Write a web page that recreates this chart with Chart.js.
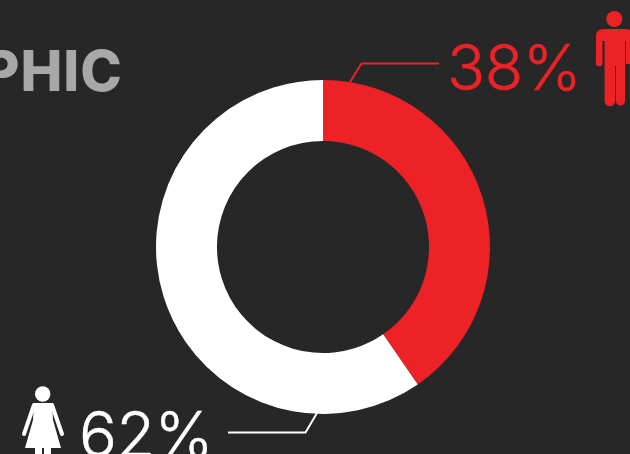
<!DOCTYPE html>
<html>
<head>
<meta charset="utf-8">
<style>
html,body{margin:0;padding:0;background:#272727;overflow:hidden}
#wrap{position:relative;width:630px;height:454px}
canvas{display:block}
</style>
<script src="https://cdn.jsdelivr.net/npm/chart.js@4"></script>
</head>
<body>
<div id="wrap"><canvas id="c" width="630" height="454"></canvas></div>
<script>
const categories = ["Male", "Female"];
const arcValues = [40.4, 59.6];
const percentLabels = ["38%", "62%"];
const titleText = "PHIC";
const RED = "#ed2227", WHITE = "#ffffff", BG = "#272727", GREY = "#a8a8a8";

function roundedLine(ctx, x1, y1, x2, y2, w) {
  ctx.lineCap = "round"; ctx.lineWidth = w;
  ctx.beginPath(); ctx.moveTo(x1, y1); ctx.lineTo(x2, y2); ctx.stroke();
}
function drawMan(ctx) {
  ctx.fillStyle = RED; ctx.strokeStyle = RED;
  ctx.beginPath(); ctx.arc(614.3, 19, 8, 0, Math.PI * 2); ctx.fill();
  ctx.beginPath();
  ctx.moveTo(604, 29); ctx.lineTo(626, 29);
  ctx.quadraticCurveTo(632, 29, 632, 36);
  ctx.lineTo(632, 64); ctx.lineTo(626, 64); ctx.lineTo(626, 41); ctx.lineTo(625, 41);
  ctx.lineTo(625, 101); ctx.arc(620.5, 101, 4.5, 0, Math.PI); ctx.lineTo(616, 66); ctx.lineTo(615, 66);
  ctx.lineTo(615, 101); ctx.arc(609.8, 101, 5.2, 0, Math.PI); ctx.lineTo(604.6, 41); ctx.lineTo(602.5, 41);
  ctx.lineTo(602.5, 63); ctx.arc(599.2, 63, 3.3, 0, Math.PI); ctx.lineTo(596, 36);
  ctx.quadraticCurveTo(596, 29, 604, 29);
  ctx.closePath(); ctx.fill();
}
function drawWoman(ctx) {
  ctx.fillStyle = WHITE; ctx.strokeStyle = WHITE;
  ctx.beginPath(); ctx.arc(42.7, 394, 7.7, 0, Math.PI * 2); ctx.fill();
  ctx.beginPath();
  ctx.moveTo(34, 403); ctx.lineTo(52, 403);
  ctx.lineTo(53, 420); ctx.lineTo(61, 448); ctx.lineTo(51, 448); ctx.lineTo(51, 454); ctx.lineTo(44, 454); ctx.lineTo(44, 448);
  ctx.lineTo(42, 448); ctx.lineTo(42, 454); ctx.lineTo(35, 454); ctx.lineTo(35, 448); ctx.lineTo(25, 448);
  ctx.lineTo(33, 420);
  ctx.closePath(); ctx.fill();
  roundedLine(ctx, 34, 405, 24, 434, 4);
  roundedLine(ctx, 52, 405, 62, 434, 4);
}
const annotations = {
  id: "annotations",
  afterDraw(chart) {
    const ctx = chart.ctx;
    ctx.save();
    ctx.lineCap = "butt"; ctx.lineJoin = "miter"; ctx.lineWidth = 2;
    ctx.strokeStyle = RED;
    ctx.beginPath(); ctx.moveTo(350, 82); ctx.lineTo(361.5, 63.5); ctx.lineTo(439, 63.5); ctx.stroke();
    ctx.strokeStyle = WHITE;
    ctx.beginPath(); ctx.moveTo(228, 432.5); ctx.lineTo(305.5, 432.5); ctx.lineTo(317, 413); ctx.stroke();
    ctx.textBaseline = "alphabetic";
    ctx.textAlign = "left";
    ctx.font = "300 63px Inter";
    ctx.letterSpacing = "-0.5px";
    ctx.lineWidth = 0.5;
    ctx.fillStyle = RED; ctx.strokeStyle = RED;
    ctx.fillText(percentLabels[0], 447, 90);
    ctx.strokeText(percentLabels[0], 447, 90);
    ctx.fillStyle = WHITE; ctx.strokeStyle = WHITE;
    ctx.fillText(percentLabels[1], 79, 457);
    ctx.strokeText(percentLabels[1], 79, 457);
    ctx.letterSpacing = "1px";
    ctx.font = "800 56px Inter";
    ctx.fillStyle = GREY;
    ctx.textAlign = "right";
    ctx.fillText(titleText, 123, 91);
    ctx.letterSpacing = "0px";
    drawMan(ctx);
    drawWoman(ctx);
    ctx.restore();
  }
};
new Chart(document.getElementById("c"), {
  type: "doughnut",
  data: {
    labels: categories,
    datasets: [{
      data: arcValues,
      backgroundColor: [RED, WHITE],
      borderWidth: 0
    }]
  },
  options: {
    responsive: false,
    animation: false,
    cutout: "63.5%",
    layout: { padding: { left: 156, right: 140, top: 80, bottom: 40 } },
    plugins: { legend: { display: false }, tooltip: { enabled: false } }
  },
  plugins: [annotations]
});
</script>
</body>
</html>
